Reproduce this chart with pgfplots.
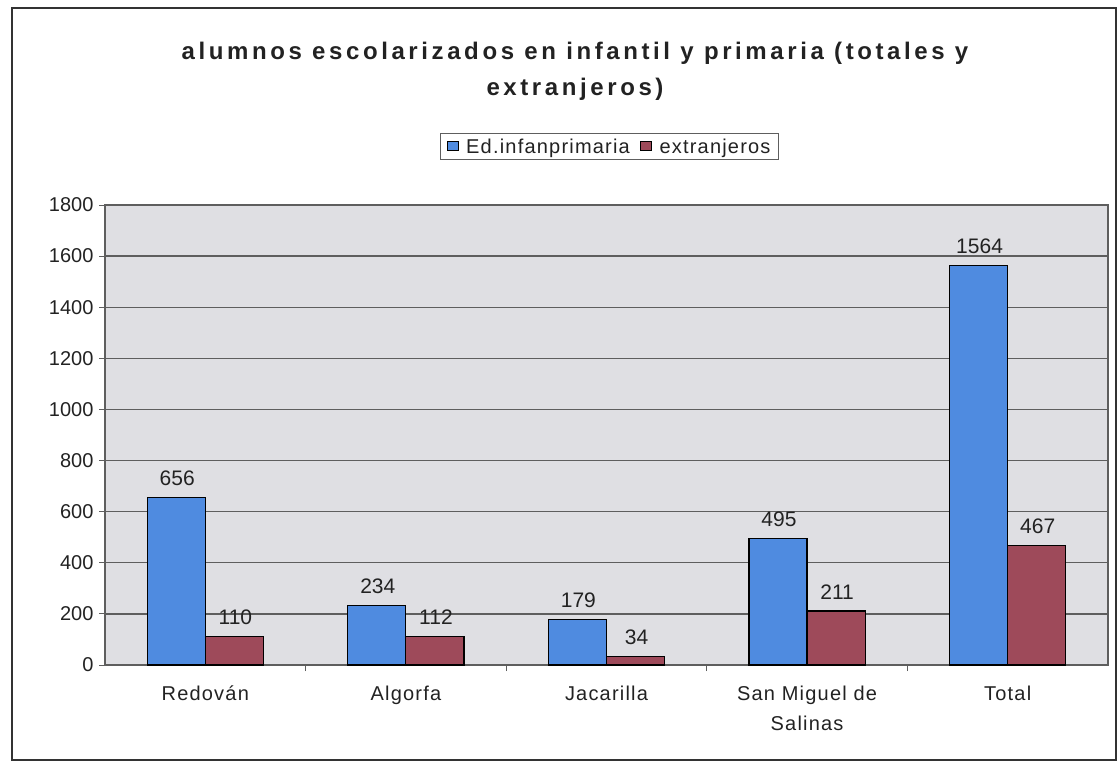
\documentclass[border=0pt]{standalone}
\usepackage{fontspec}
\setmainfont{Liberation Sans}
\newfontfamily\titlefont[LetterSpace=15]{Liberation Sans}
\newfontfamily\lsfont[LetterSpace=6]{Liberation Sans}
\usepackage{pgfplots}
\pgfplotsset{compat=1.18}
\definecolor{barBlue}{HTML}{4F8BE0}
\definecolor{barRed}{HTML}{9E4A5A}
\definecolor{plotBg}{HTML}{DFDFE3}
\definecolor{gridGray}{HTML}{5E5E5E}
\definecolor{txt}{HTML}{222222}

\begin{document}
\begin{tikzpicture}[x=1pt,y=1pt]
  \path (0,0) rectangle (1118,764);
  \draw[line width=1.8pt, black!80] (12,4) rectangle (1116,756);
  \node[txt, align=center, font=\titlefont\bfseries\fontsize{24}{36}\selectfont] at (575,693)
    {alumnos escolarizados en infantil y primaria (totales y\\extranjeros)};
  \begin{axis}[
      at={(105pt,99pt)}, anchor=south west,
      scale only axis, width=1003pt, height=460pt,
      xmin=-0.5, xmax=4.5, ymin=0, ymax=1800,
      axis background/.style={fill=plotBg},
      axis line style={gridGray, line width=1.1pt},
      ytick={0,200,...,1800},
      ymajorgrids, grid style={gridGray, line width=1.3pt},
      tick style={gridGray, line width=1pt},
      major tick length=6pt,
      tick align=outside,
      xtick pos=bottom, ytick pos=left,
      xtick={0.5,1.5,2.5,3.5},
      xticklabels={},
      extra x ticks={0,1,2,3,4},
      extra x tick labels={Redov\'an, Algorfa, Jacarilla, {San Miguel de\\Salinas}, Total},
      extra x tick style={major tick length=0pt, grid=none,
        tick label style={align=center, text=txt, font=\lsfont\fontsize{20}{30}\selectfont, yshift=-17pt}},
      y tick label style={text=txt, font=\fontsize{20}{24}\selectfont, xshift=-2pt},
      /pgf/number format/assume math mode=true,
      /pgf/number format/1000 sep={},
      ybar=0pt, bar width=0.29,
      nodes near coords,
      every node near coord/.append style={text=txt, font=\fontsize{21}{24}\selectfont, yshift=8pt, xshift=1pt},
      legend style={at={(0.503,1.127)}, anchor=center, legend columns=2,
        draw=gridGray, line width=0.8pt, fill=white, text=txt,
        font=\lsfont\fontsize{20}{24}\selectfont, inner xsep=6pt, inner ysep=3pt,
        /tikz/every odd column/.style={column sep=6pt},
        /tikz/every even column/.style={column sep=8pt}},
      legend image code/.code={\draw[#1, line width=0.7pt] (0pt,-4pt) rectangle (11pt,5pt);},
      clip=false,
    ]
    \addplot[fill=barBlue, draw=black, line width=1.2pt, bar shift=-0.145]
      coordinates {(0,656) (1,234) (2,179) (3,495) (4,1564)};
    \addlegendentry{Ed.infanprimaria}
    \addplot[fill=barRed, draw=black, line width=1.2pt, bar shift=0.145]
      coordinates {(0,110) (1,112) (2,34) (3,211) (4,467)};
    \addlegendentry{extranjeros}
  \end{axis}
\end{tikzpicture}
\end{document}
